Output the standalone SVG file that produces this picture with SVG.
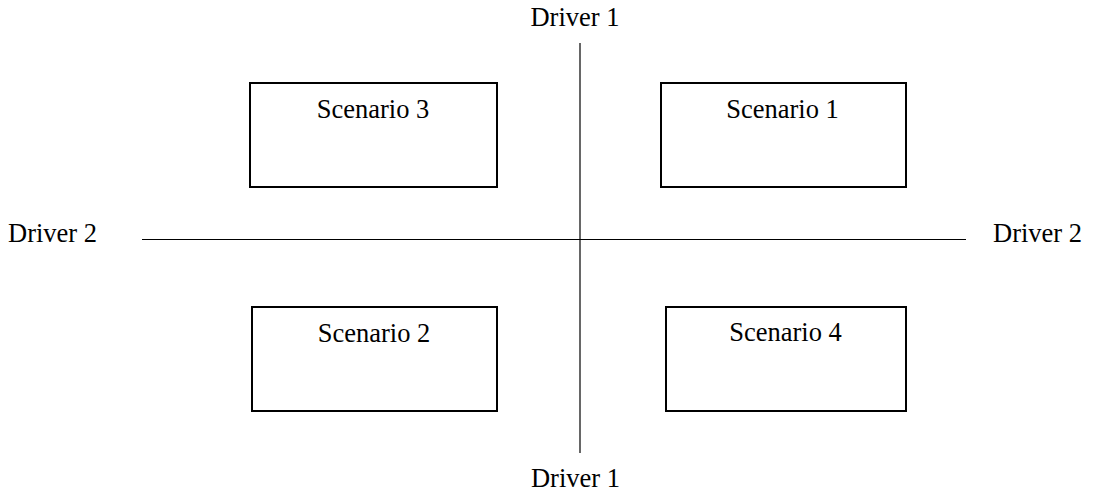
<svg xmlns="http://www.w3.org/2000/svg" width="1094" height="495" viewBox="0 0 1094 495">
<style>
text{font-family:"Liberation Serif","Times New Roman",serif;font-size:26.5px;fill:#000}
.box{fill:#fff;stroke:#000;stroke-width:2}
.axis{stroke:#000;stroke-width:1.2;fill:none}
</style>
<rect width="1094" height="495" fill="#fff"/>
<g id="connectors">
<line class="axis" x1="580" y1="43" x2="580" y2="453"/>
<line class="axis" x1="142" y1="239.5" x2="966" y2="239.5"/>
</g>
<g id="driver1-top"><text x="575" y="26" text-anchor="middle">Driver 1</text></g>
<g id="driver1-bottom"><text x="575.5" y="487" text-anchor="middle">Driver 1</text></g>
<g id="driver2-left"><text x="8" y="242">Driver 2</text></g>
<g id="driver2-right"><text x="993" y="242">Driver 2</text></g>
<g id="scenario3"><rect class="box" x="250" y="83" width="247" height="104"/><text x="373" y="118" text-anchor="middle">Scenario 3</text></g>
<g id="scenario1"><rect class="box" x="661" y="83" width="245" height="104"/><text x="782.5" y="118" text-anchor="middle">Scenario 1</text></g>
<g id="scenario2"><rect class="box" x="252" y="307" width="245" height="104"/><text x="374" y="342" text-anchor="middle">Scenario 2</text></g>
<g id="scenario4"><rect class="box" x="666" y="307" width="240" height="104"/><text x="785.5" y="341" text-anchor="middle">Scenario 4</text></g>
</svg>
